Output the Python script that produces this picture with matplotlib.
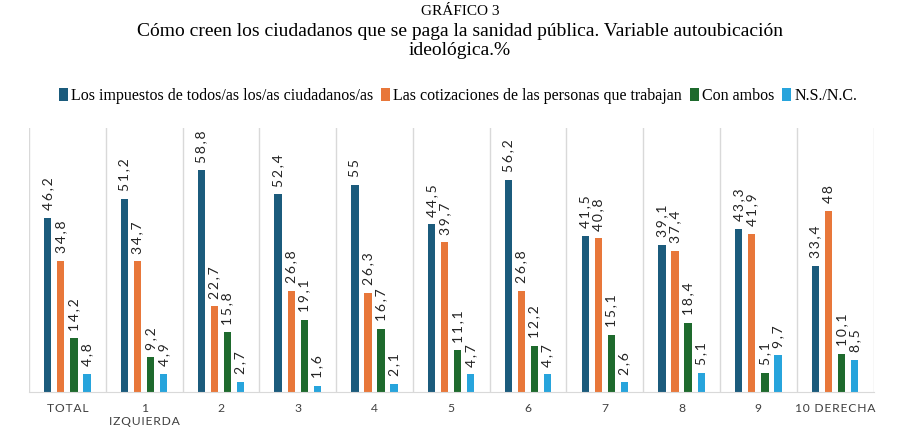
import matplotlib.pyplot as plt
import numpy as np

categories = ["TOTAL", "1\nIZQUIERDA", "2", "3", "4", "5", "6", "7", "8", "9", "10 DERECHA"]
series_names = ["Los impuestos de todos/as los/as ciudadanos/as",
                "Las cotizaciones de las personas que trabajan",
                "Con ambos",
                "N.S./N.C."]
impuestos = [46.2, 51.2, 58.8, 52.4, 55, 44.5, 56.2, 41.5, 39.1, 43.3, 33.4]
cotizaciones = [34.8, 34.7, 22.7, 26.8, 26.3, 39.7, 26.8, 40.8, 37.4, 41.9, 48]
ambos = [14.2, 9.2, 15.8, 19.1, 16.7, 11.1, 12.2, 15.1, 18.4, 5.1, 10.1]
nsnc = [4.8, 4.9, 2.7, 1.6, 2.1, 4.7, 4.7, 2.6, 5.1, 9.7, 8.5]
colors = ["#1b5b7c", "#e8773a", "#1e6a2d", "#27a4dc"]

def fmt(v):
    s = ("%.1f" % v).replace(".", ",")
    s = s[:-2] if s.endswith(",0") else s
    return "\u2009".join(s)

def spaced(t):
    # imitate letter spacing of the original tick labels
    return "\n".join("\u200a".join(line) for line in t.split("\n"))

fig = plt.figure(figsize=(9.2, 4.43), dpi=100)
ax = fig.add_axes([0.0315, 0.115, 0.918, 0.596])

x = np.arange(len(categories))
offsets = [-0.255, -0.085, 0.085, 0.255]
for vals, off, col, name in zip([impuestos, cotizaciones, ambos, nsnc], offsets, colors, series_names):
    bars = ax.bar(x + off, vals, width=0.095, color=col, label=name)
    for b, v in zip(bars, vals):
        ax.annotate(fmt(v), (b.get_x() + b.get_width() / 2, v), xytext=(0, 5.5),
                    textcoords="offset points", rotation=90, ha="center", va="bottom",
                    fontsize=10, family="Lato", color="#222222")

for b in np.arange(len(categories) + 1) - 0.5:
    ax.axvline(b, color="#d9d9d9", lw=1, zorder=0)

ax.set_xlim(-0.5, len(categories) - 0.5)
ax.set_ylim(0, 70)
ax.set_yticks([])
ax.set_xticks(x)
ax.set_xticklabels([spaced(c) for c in categories], family="Lato", fontsize=8.7, color="#404040")
ax.tick_params(axis="x", length=0, pad=8)
for s in ["top", "left", "right"]:
    ax.spines[s].set_visible(False)
ax.spines["bottom"].set_color("#d9d9d9")

fig.text(0.5, 0.975, "GRÁFICO 3", ha="center", va="center", family="Liberation Serif", fontsize=11)
fig.text(0.5, 0.93, "Cómo creen los ciudadanos que se paga la sanidad pública. Variable autoubicación",
         ha="center", va="center", family="Liberation Serif", fontsize=14)
fig.text(0.5, 0.887, "ideológica.%", ha="center", va="center", family="Liberation Serif", fontsize=14)

fig.legend(loc="center", bbox_to_anchor=(0.498, 0.783), ncol=4, frameon=False,
           prop={"family": "Liberation Serif", "size": 11.5}, handlelength=0.55, handleheight=0.8,
           handletextpad=0.2, columnspacing=0.5)

plt.savefig("out.png", dpi=100)
